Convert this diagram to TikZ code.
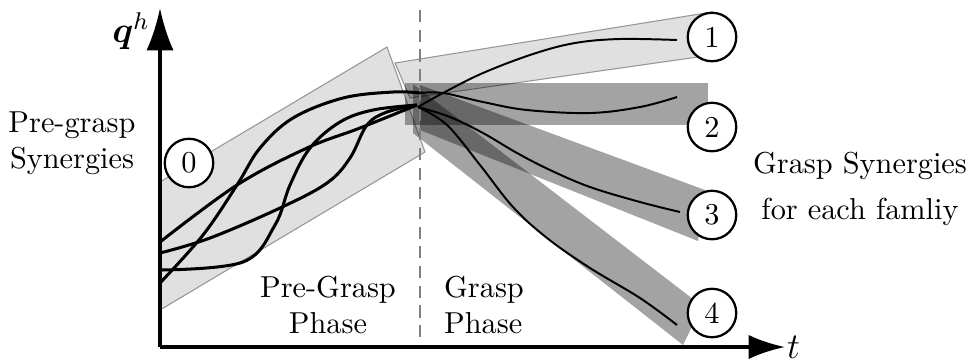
\documentclass[tikz,border=0pt]{standalone}
\usepackage{amsmath}
\usepackage{bm}
\usepackage{tikz}
\usetikzlibrary{arrows.meta}

\tikzset{
  lightband/.style={fill=black, fill opacity=0.12, draw=black!50, draw opacity=0.8, line width=0.35pt},
  darkband/.style={fill=black, fill opacity=0.36},
  pretraj/.style={line width=1pt},
  graspcurve/.style={line width=0.65pt},
  famnum/.style={circle, draw, line width=0.75pt, fill=white, inner sep=0pt, minimum size=16pt},
  axisline/.style={line width=1.1pt}
}

\begin{document}
\begin{tikzpicture}[x=0.33pt,y=0.33pt]
\useasboundingbox (0,0) rectangle (971,361);
\filldraw[lightband] (160,179) -- (387,314) -- (425,209) -- (160,51) -- cycle;
\filldraw[lightband] (395,298) -- (712,349) -- (712,306) -- (410,263) -- cycle;
\fill[darkband] (405,278) rectangle (708,236);
\fill[darkband] (420,276) -- (705,171) -- (698,120) -- (420,231) -- cycle;
\fill[darkband] (413,277) -- (702,55) -- (683,16) -- (413,228) -- cycle;
\coordinate (dtop) at (420,351);
\coordinate (dbot) at (420,14);
\draw[gray, line width=0.6pt, dash pattern=on 4pt off 2.5pt] (dtop) -- (dbot);
\draw[pretraj] plot[smooth, tension=0.6] coordinates {(160,119) (237,176) (307,213) (360,233) (417,256)};
\draw[pretraj] plot[smooth, tension=0.6] coordinates {(160,108) (210,123) (280,153) (327,178) (350,203) (367,236) (387,249) (417,256)};
\draw[pretraj] plot[smooth, tension=0.6] coordinates {(160,91) (243,99) (275,136) (290,176) (310,213) (340,239) (373,251) (417,256)};
\draw[pretraj] plot[smooth, tension=0.6] coordinates {(160,78) (203,126) (237,176) (260,213) (293,243) (343,263) (393,269) (420,268)};
\draw[graspcurve] plot[smooth, tension=0.6] coordinates {(418,254) (443,268) (483,288) (533,307) (575,318) (620,322) (677,321)};
\draw[graspcurve] plot[smooth, tension=0.6] coordinates {(420,268) (443,268) (483,259) (527,251) (590,248) (640,254) (677,264)};
\draw[graspcurve] plot[smooth, tension=0.6] coordinates {(418,254) (450,244) (483,228) (517,208) (550,191) (590,174) (640,159) (680,149)};
\draw[graspcurve] plot[smooth, tension=0.6] coordinates {(418,254) (447,236) (480,196) (513,154) (547,123) (590,93) (640,63) (677,36)};
\coordinate (O) at (160,14);
\coordinate (yend) at (160,353);
\coordinate (xend) at (785,14);
\draw[axisline, -{Latex[length=14pt,width=9pt]}] (O) -- (yend);
\draw[axisline, -{Latex[length=12pt,width=8pt]}] (O) -- (xend);
\node (qlabel) at (131,330) {\large $\bm{q}^h$};
\node[right, inner sep=0.5pt] (tlabel) at (xend) {\large $t$};
\node[famnum] (c0) at (189,198) {0};
\node[famnum] (c1) at (712,324) {1};
\node[famnum] (c2) at (712,234) {2};
\node[famnum] (c3) at (712,146) {3};
\node[famnum] (c4) at (712,48) {4};
\node[align=center] (pregrasp) at (72,218) {Pre-grasp\\Synergies};
\node[align=center] (prephase) at (328,56) {Pre-Grasp\\Phase};
\node[align=left] (graspphase) at (484,56) {Grasp\\Phase};
\node[align=center] (graspsyn) at (860,172) {Grasp Synergies\\[3pt]for each famliy};
\end{tikzpicture}
\end{document}
